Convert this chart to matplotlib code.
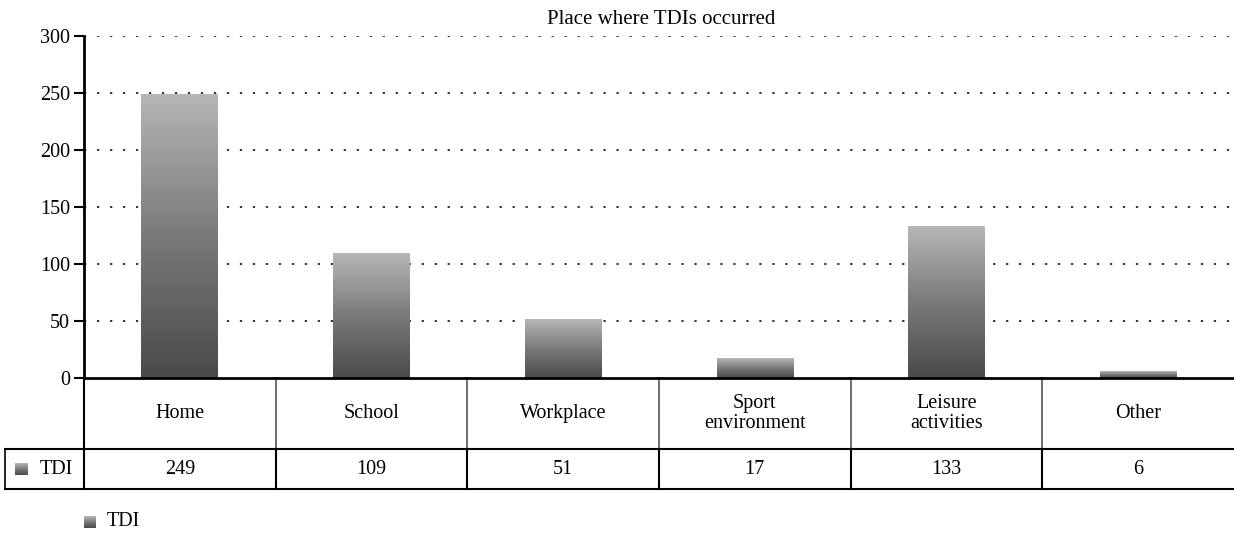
import numpy as np
import matplotlib
matplotlib.use("Agg")
import matplotlib.pyplot as plt
from matplotlib.colors import LinearSegmentedColormap
import matplotlib.transforms as mtrans

categories = ["Home", "School", "Workplace", "Sport\nenvironment", "Leisure\nactivities", "Other"]
tdi = [249, 109, 51, 17, 133, 6]
series_name = "TDI"
title = "Place where TDIs occurred"
yticks = [0, 50, 100, 150, 200, 250, 300]

plt.rcParams['font.family'] = ['Liberation Serif', 'DejaVu Serif']
FS = 14.5

W, H = 1234, 536
fig = plt.figure(figsize=(W/100, H/100), dpi=100)
ax_left, ax_right, ax_top, ax_bot = 84, 1234, 36, 378
ax = fig.add_axes([ax_left/W, (H-ax_bot)/H, (ax_right-ax_left)/W, (ax_bot-ax_top)/H])

cmap = LinearSegmentedColormap.from_list("g", ["#4a4a4a", "#7a7a7a", "#b6b6b6"])
grad = np.linspace(0, 1, 256).reshape(-1, 1)

x = np.arange(len(categories))
bars = ax.bar(x, tdi, width=0.4, color="none", edgecolor="none", zorder=3)
for r in bars:
    x0, y0 = r.get_x(), r.get_y()
    ax.imshow(grad, cmap=cmap, origin="lower", aspect="auto",
              extent=[x0, x0 + r.get_width(), y0, y0 + r.get_height()], zorder=3)

ax.set_xlim(-0.5, len(categories) - 0.5)
ax.set_ylim(0, 300)
ax.set_yticks(yticks)
ax.set_xticks([])
for y in yticks[1:]:
    ax.axhline(y, color="black", lw=1.1, linestyle=(0, (1.5, 7.0)), zorder=1)

for s in ["top", "right"]:
    ax.spines[s].set_visible(False)
ax.spines["left"].set_linewidth(2.0)
ax.spines["bottom"].set_linewidth(2.0)
ax.spines["bottom"].set_zorder(5)
ax.tick_params(axis="y", direction="out", length=7, width=1.5, labelsize=FS, pad=3)
fig.text((ax_left + ax_right) / 2 / W + 0.002, 1 - 19/H, title, ha="center", va="center", fontsize=FS + 0.5)

# data table below the axes
px = 1.0 / (ax_bot - ax_top)  # axes-fraction per pixel
tr = mtrans.blended_transform_factory(ax.transData, ax.transAxes)
row1_bot = -(449 - 378) * px
row2_bot = -(489 - 378) * px
unit_px = (ax_right - ax_left) / len(categories)
left_hdr = -0.5 - (ax_left - 5) / unit_px
xmax = len(categories) - 0.5

for i in range(1, len(categories)):
    ax.plot([i - 0.5, i - 0.5], [0, row1_bot], transform=tr, color="#555555", lw=1.2, clip_on=False)
    ax.plot([i - 0.5, i - 0.5], [row1_bot, row2_bot], transform=tr, color="black", lw=1.5, clip_on=False)
ax.plot([-0.5, -0.5], [0, row2_bot], transform=tr, color="black", lw=1.5, clip_on=False)
ax.plot([left_hdr, left_hdr], [row1_bot, row2_bot], transform=tr, color="black", lw=1.2, clip_on=False)
ax.plot([left_hdr, xmax], [row1_bot, row1_bot], transform=tr, color="black", lw=1.5, clip_on=False)
ax.plot([left_hdr, xmax], [row2_bot, row2_bot], transform=tr, color="black", lw=1.5, clip_on=False)

for i, (c, v) in enumerate(zip(categories, tdi)):
    ax.text(i, row1_bot / 2, c, transform=tr, ha="center", va="center", fontsize=FS,
            linespacing=1.05, clip_on=False)
    ax.text(i, (row1_bot + row2_bot) / 2, str(v), transform=tr, ha="center", va="center",
            fontsize=FS, clip_on=False)

# legend swatches (figure pixel coords)
def swatch(x0, y0, size=12):
    a = fig.add_axes([x0/W, (H - y0 - size)/H, size/W, size/H])
    a.imshow(grad, cmap=cmap, origin="lower", aspect="auto", extent=[0, 1, 0, 1])
    a.set_axis_off()

swatch(15, 463)
fig.text(40/W, 1 - 469/H, series_name, ha="left", va="center", fontsize=FS)
swatch(84, 516)
fig.text(107/W, 1 - 522/H, series_name, ha="left", va="center", fontsize=FS)

fig.savefig("out.png", dpi=100)
